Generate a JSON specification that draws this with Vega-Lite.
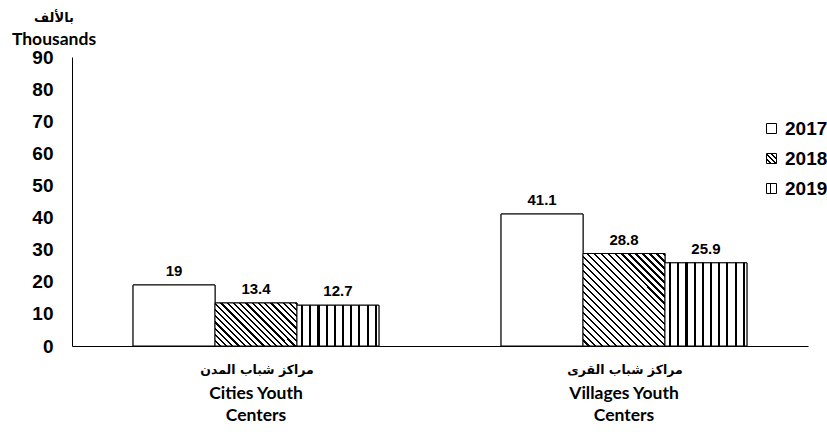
{
  "$schema": "https://vega.github.io/schema/vega-lite/v6.json",
  "width": 736,
  "height": 289,
  "autosize": {"type": "none"},
  "padding": {"left": 72, "top": 57, "right": 19, "bottom": 86},
  "background": "white",
  "config": {
    "view": {"stroke": null},
    "axisY": {
      "tickCount": 10,
      "grid": false,
      "ticks": false,
      "domainColor": "black",
      "domainWidth": 1,
      "labelPadding": 19,
      "labelFont": "Liberation Sans",
      "labelFontWeight": "bold",
      "labelFontSize": 19,
      "labelColor": "black"
    }
  },
  "title": {
    "text": "بالألف",
    "subtitle": "Thousands",
    "anchor": "start",
    "frame": "group",
    "align": "center",
    "dx": -18,
    "offset": 0,
    "font": "DejaVu Sans",
    "fontSize": 13,
    "fontWeight": "bold",
    "color": "black",
    "subtitleFont": "Lato",
    "subtitleFontSize": 17.5,
    "subtitleFontWeight": "bold",
    "subtitleColor": "black",
    "subtitlePadding": 6
  },
  "data": {
    "values": [
      {"center": "Cities", "year": "2017", "value": 19},
      {"center": "Cities", "year": "2018", "value": 13.4},
      {"center": "Cities", "year": "2019", "value": 12.7},
      {"center": "Villages", "year": "2017", "value": 41.1},
      {"center": "Villages", "year": "2018", "value": 28.8},
      {"center": "Villages", "year": "2019", "value": 25.9}
    ]
  },
  "encoding": {
    "x": {
      "field": "center",
      "type": "nominal",
      "sort": ["Cities", "Villages"],
      "scale": {"paddingInner": 0.332, "paddingOuter": 0.166},
      "axis": {
        "title": null,
        "domainColor": "black",
        "domainWidth": 1,
        "ticks": false,
        "labelAngle": 0,
        "labelPadding": 38,
        "labelDx": 5,
        "labelFont": "Lato",
        "labelFontWeight": "bold",
        "labelFontSize": 17.5,
        "labelColor": "black",
        "labelLineHeight": 22.5,
        "labelExpr": "datum.value == 'Cities' ? ['Cities Youth', 'Centers'] : ['Villages Youth', 'Centers']"
      }
    }
  },
  "layer": [
    {
      "mark": {"type": "bar", "stroke": "black", "strokeWidth": 1},
      "encoding": {
        "xOffset": {"field": "year", "type": "nominal", "scale": {"paddingInner": 0, "paddingOuter": 0}},
        "y": {"field": "value", "type": "quantitative", "title": null, "scale": {"domain": [0, 90]}},
        "fill": {
          "field": "year",
          "type": "nominal",
          "scale": {
            "range": [
              "white",
              {"expr": "{gradient: 'linear', x1: 0, y1: 1, x2: 1, y2: 0, stops: [{offset: 0, color: 'white'}, {offset: 0.2, color: 'white'}, {offset: 0.2, color: 'black'}, {offset: 0.3, color: 'black'}, {offset: 0.3, color: 'white'}, {offset: 0.45, color: 'white'}, {offset: 0.45, color: 'black'}, {offset: 0.55, color: 'black'}, {offset: 0.55, color: 'white'}, {offset: 0.7, color: 'white'}, {offset: 0.7, color: 'black'}, {offset: 0.8, color: 'black'}, {offset: 0.8, color: 'white'}, {offset: 1, color: 'white'}]}"},
              {"expr": "{gradient: 'linear', x1: 0, y1: 0, x2: 1, y2: 0, stops: [{offset: 0, color: 'white'}, {offset: 0.33, color: 'white'}, {offset: 0.33, color: 'black'}, {offset: 0.45, color: 'black'}, {offset: 0.45, color: 'white'}, {offset: 1, color: 'white'}]}"}
            ]
          },
          "legend": {
            "title": null,
            "orient": "none",
            "legendX": 690,
            "legendY": 62,
            "padding": 0,
            "symbolType": "square",
            "symbolSize": 100,
            "symbolStrokeColor": "black",
            "symbolStrokeWidth": 1,
            "symbolOpacity": 1,
            "rowPadding": 10,
            "labelFont": "Liberation Sans",
            "labelFontWeight": "bold",
            "labelFontSize": 19,
            "labelColor": "black",
            "labelOffset": 4
          }
        }
      }
    },
    {
      "mark": {"type": "bar", "stroke": "black", "strokeWidth": 1},
      "encoding": {
        "xOffset": {"field": "year", "type": "nominal"},
        "y": {"field": "value", "type": "quantitative", "title": null},
        "fill": {
          "condition": [
            {
              "test": "datum.year === '2018' && datum.center === 'Cities'",
              "value": {
                "gradient": "linear",
                "x1": 0, "y1": 1, "x2": 1.196, "y2": 0.373,
                "stops": [
                  {"offset": 0, "color": "white"},
                  {"offset": 0.032, "color": "white"}, {"offset": 0.032, "color": "black"}, {"offset": 0.05, "color": "black"}, {"offset": 0.05, "color": "white"},
                  {"offset": 0.082, "color": "white"}, {"offset": 0.082, "color": "black"}, {"offset": 0.1, "color": "black"}, {"offset": 0.1, "color": "white"},
                  {"offset": 0.132, "color": "white"}, {"offset": 0.132, "color": "black"}, {"offset": 0.15, "color": "black"}, {"offset": 0.15, "color": "white"},
                  {"offset": 0.182, "color": "white"}, {"offset": 0.182, "color": "black"}, {"offset": 0.2, "color": "black"}, {"offset": 0.2, "color": "white"},
                  {"offset": 0.232, "color": "white"}, {"offset": 0.232, "color": "black"}, {"offset": 0.25, "color": "black"}, {"offset": 0.25, "color": "white"},
                  {"offset": 0.282, "color": "white"}, {"offset": 0.282, "color": "black"}, {"offset": 0.3, "color": "black"}, {"offset": 0.3, "color": "white"},
                  {"offset": 0.332, "color": "white"}, {"offset": 0.332, "color": "black"}, {"offset": 0.35, "color": "black"}, {"offset": 0.35, "color": "white"},
                  {"offset": 0.382, "color": "white"}, {"offset": 0.382, "color": "black"}, {"offset": 0.4, "color": "black"}, {"offset": 0.4, "color": "white"},
                  {"offset": 0.432, "color": "white"}, {"offset": 0.432, "color": "black"}, {"offset": 0.45, "color": "black"}, {"offset": 0.45, "color": "white"},
                  {"offset": 0.482, "color": "white"}, {"offset": 0.482, "color": "black"}, {"offset": 0.5, "color": "black"}, {"offset": 0.5, "color": "white"},
                  {"offset": 0.532, "color": "white"}, {"offset": 0.532, "color": "black"}, {"offset": 0.55, "color": "black"}, {"offset": 0.55, "color": "white"},
                  {"offset": 0.582, "color": "white"}, {"offset": 0.582, "color": "black"}, {"offset": 0.6, "color": "black"}, {"offset": 0.6, "color": "white"},
                  {"offset": 0.632, "color": "white"}, {"offset": 0.632, "color": "black"}, {"offset": 0.65, "color": "black"}, {"offset": 0.65, "color": "white"},
                  {"offset": 0.682, "color": "white"}, {"offset": 0.682, "color": "black"}, {"offset": 0.7, "color": "black"}, {"offset": 0.7, "color": "white"},
                  {"offset": 0.732, "color": "white"}, {"offset": 0.732, "color": "black"}, {"offset": 0.75, "color": "black"}, {"offset": 0.75, "color": "white"},
                  {"offset": 0.782, "color": "white"}, {"offset": 0.782, "color": "black"}, {"offset": 0.8, "color": "black"}, {"offset": 0.8, "color": "white"},
                  {"offset": 0.832, "color": "white"}, {"offset": 0.832, "color": "black"}, {"offset": 0.85, "color": "black"}, {"offset": 0.85, "color": "white"},
                  {"offset": 0.882, "color": "white"}, {"offset": 0.882, "color": "black"}, {"offset": 0.9, "color": "black"}, {"offset": 0.9, "color": "white"},
                  {"offset": 0.932, "color": "white"}, {"offset": 0.932, "color": "black"}, {"offset": 0.95, "color": "black"}, {"offset": 0.95, "color": "white"},
                  {"offset": 0.982, "color": "white"}, {"offset": 0.982, "color": "black"}, {"offset": 1, "color": "black"}
                ]
              }
            },
            {
              "test": "datum.year === '2018' && datum.center === 'Villages'",
              "value": {
                "gradient": "linear",
                "x1": 0, "y1": 1, "x2": 0.9365, "y2": -0.0564,
                "stops": [
                  {"offset": 0, "color": "white"},
                  {"offset": 0.025, "color": "white"}, {"offset": 0.025, "color": "black"}, {"offset": 0.04, "color": "black"}, {"offset": 0.04, "color": "white"},
                  {"offset": 0.065, "color": "white"}, {"offset": 0.065, "color": "black"}, {"offset": 0.08, "color": "black"}, {"offset": 0.08, "color": "white"},
                  {"offset": 0.105, "color": "white"}, {"offset": 0.105, "color": "black"}, {"offset": 0.12, "color": "black"}, {"offset": 0.12, "color": "white"},
                  {"offset": 0.145, "color": "white"}, {"offset": 0.145, "color": "black"}, {"offset": 0.16, "color": "black"}, {"offset": 0.16, "color": "white"},
                  {"offset": 0.185, "color": "white"}, {"offset": 0.185, "color": "black"}, {"offset": 0.2, "color": "black"}, {"offset": 0.2, "color": "white"},
                  {"offset": 0.225, "color": "white"}, {"offset": 0.225, "color": "black"}, {"offset": 0.24, "color": "black"}, {"offset": 0.24, "color": "white"},
                  {"offset": 0.265, "color": "white"}, {"offset": 0.265, "color": "black"}, {"offset": 0.28, "color": "black"}, {"offset": 0.28, "color": "white"},
                  {"offset": 0.305, "color": "white"}, {"offset": 0.305, "color": "black"}, {"offset": 0.32, "color": "black"}, {"offset": 0.32, "color": "white"},
                  {"offset": 0.345, "color": "white"}, {"offset": 0.345, "color": "black"}, {"offset": 0.36, "color": "black"}, {"offset": 0.36, "color": "white"},
                  {"offset": 0.385, "color": "white"}, {"offset": 0.385, "color": "black"}, {"offset": 0.4, "color": "black"}, {"offset": 0.4, "color": "white"},
                  {"offset": 0.425, "color": "white"}, {"offset": 0.425, "color": "black"}, {"offset": 0.44, "color": "black"}, {"offset": 0.44, "color": "white"},
                  {"offset": 0.465, "color": "white"}, {"offset": 0.465, "color": "black"}, {"offset": 0.48, "color": "black"}, {"offset": 0.48, "color": "white"},
                  {"offset": 0.505, "color": "white"}, {"offset": 0.505, "color": "black"}, {"offset": 0.52, "color": "black"}, {"offset": 0.52, "color": "white"},
                  {"offset": 0.545, "color": "white"}, {"offset": 0.545, "color": "black"}, {"offset": 0.56, "color": "black"}, {"offset": 0.56, "color": "white"},
                  {"offset": 0.585, "color": "white"}, {"offset": 0.585, "color": "black"}, {"offset": 0.6, "color": "black"}, {"offset": 0.6, "color": "white"},
                  {"offset": 0.625, "color": "white"}, {"offset": 0.625, "color": "black"}, {"offset": 0.64, "color": "black"}, {"offset": 0.64, "color": "white"},
                  {"offset": 0.665, "color": "white"}, {"offset": 0.665, "color": "black"}, {"offset": 0.68, "color": "black"}, {"offset": 0.68, "color": "white"},
                  {"offset": 0.705, "color": "white"}, {"offset": 0.705, "color": "black"}, {"offset": 0.72, "color": "black"}, {"offset": 0.72, "color": "white"},
                  {"offset": 0.745, "color": "white"}, {"offset": 0.745, "color": "black"}, {"offset": 0.76, "color": "black"}, {"offset": 0.76, "color": "white"},
                  {"offset": 0.785, "color": "white"}, {"offset": 0.785, "color": "black"}, {"offset": 0.8, "color": "black"}, {"offset": 0.8, "color": "white"},
                  {"offset": 0.825, "color": "white"}, {"offset": 0.825, "color": "black"}, {"offset": 0.84, "color": "black"}, {"offset": 0.84, "color": "white"},
                  {"offset": 0.865, "color": "white"}, {"offset": 0.865, "color": "black"}, {"offset": 0.88, "color": "black"}, {"offset": 0.88, "color": "white"},
                  {"offset": 0.905, "color": "white"}, {"offset": 0.905, "color": "black"}, {"offset": 0.92, "color": "black"}, {"offset": 0.92, "color": "white"},
                  {"offset": 0.945, "color": "white"}, {"offset": 0.945, "color": "black"}, {"offset": 0.96, "color": "black"}, {"offset": 0.96, "color": "white"},
                  {"offset": 0.985, "color": "white"}, {"offset": 0.985, "color": "black"}, {"offset": 1, "color": "black"}
                ]
              }
            },
            {
              "test": "datum.year === '2019'",
              "value": {
                "gradient": "linear",
                "x1": 0, "y1": 0, "x2": 1, "y2": 0,
                "stops": [
                  {"offset": 0, "color": "white"},
                  {"offset": 0.05, "color": "white"}, {"offset": 0.05, "color": "black"}, {"offset": 0.075, "color": "black"}, {"offset": 0.075, "color": "white"},
                  {"offset": 0.15, "color": "white"}, {"offset": 0.15, "color": "black"}, {"offset": 0.175, "color": "black"}, {"offset": 0.175, "color": "white"},
                  {"offset": 0.25, "color": "white"}, {"offset": 0.25, "color": "black"}, {"offset": 0.275, "color": "black"}, {"offset": 0.275, "color": "white"},
                  {"offset": 0.35, "color": "white"}, {"offset": 0.35, "color": "black"}, {"offset": 0.375, "color": "black"}, {"offset": 0.375, "color": "white"},
                  {"offset": 0.45, "color": "white"}, {"offset": 0.45, "color": "black"}, {"offset": 0.475, "color": "black"}, {"offset": 0.475, "color": "white"},
                  {"offset": 0.55, "color": "white"}, {"offset": 0.55, "color": "black"}, {"offset": 0.575, "color": "black"}, {"offset": 0.575, "color": "white"},
                  {"offset": 0.65, "color": "white"}, {"offset": 0.65, "color": "black"}, {"offset": 0.675, "color": "black"}, {"offset": 0.675, "color": "white"},
                  {"offset": 0.75, "color": "white"}, {"offset": 0.75, "color": "black"}, {"offset": 0.775, "color": "black"}, {"offset": 0.775, "color": "white"},
                  {"offset": 0.85, "color": "white"}, {"offset": 0.85, "color": "black"}, {"offset": 0.875, "color": "black"}, {"offset": 0.875, "color": "white"},
                  {"offset": 0.95, "color": "white"}, {"offset": 0.95, "color": "black"}, {"offset": 0.975, "color": "black"}, {"offset": 0.975, "color": "white"},
                  {"offset": 1, "color": "white"}
                ]
              }
            }
          ],
          "value": "white"
        }
      }
    },
    {
      "mark": {"type": "text", "baseline": "alphabetic", "dy": -9, "font": "Liberation Sans", "fontWeight": "bold", "fontSize": 15, "color": "black"},
      "encoding": {
        "xOffset": {"field": "year", "type": "nominal"},
        "y": {"field": "value", "type": "quantitative", "title": null},
        "text": {"field": "value", "type": "quantitative"}
      }
    },
    {
      "data": {
        "values": [
          {"center": "Cities", "arabic": "مراكز شباب المدن"},
          {"center": "Villages", "arabic": "مراكز شباب القرى"}
        ]
      },
      "mark": {"type": "text", "baseline": "middle", "dy": 24, "dx": 1, "font": "DejaVu Sans", "fontWeight": "bold", "fontSize": 12.5, "color": "black"},
      "encoding": {
        "y": {"datum": 0, "type": "quantitative", "title": null},
        "text": {"field": "arabic", "type": "nominal"}
      }
    }
  ]
}
